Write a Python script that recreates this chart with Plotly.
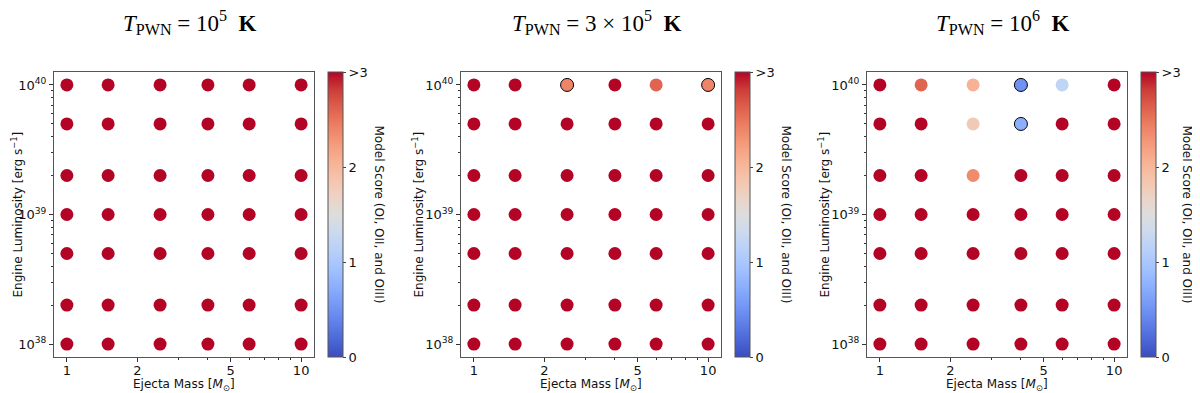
import plotly.graph_objects as go

# grid of models
ejecta_mass = [1, 1.5, 2.5, 4, 6, 10]
engine_lum = [1e38, 2e38, 5e38, 1e39, 2e39, 5e39, 1e40]
temps = ["10<sup>5</sup>", "3 × 10<sup>5</sup>", "10<sup>6</sup>"]

# scores, rows = luminosity (low -> high), cols = ejecta mass; values >3 drawn as 3
score_1e5 = [[3]*6 for _ in range(7)]
score_3e5 = [[3]*6 for _ in range(6)] + [[3, 3, 2.4, 3, 2.6, 2.4]]
score_1e6 = [[3]*6 for _ in range(4)] + [
    [3, 3, 2.35, 3, 3, 3],
    [3, 3, 1.8, 0.75, 3, 3],
    [3, 2.6, 2.05, 0.5, 1.2, 3],
]
# models outlined in black (best fits)
best_3e5 = [(2.5, 1e40), (10, 1e40)]
best_1e6 = [(4, 1e40), (4, 5e39)]
scores = [score_1e5, score_3e5, score_1e6]
bests = [[], best_3e5, best_1e6]

coolwarm = [
    [0, "rgb(59,76,192)"], [0.0625, "rgb(77,104,215)"], [0.125, "rgb(98,130,234)"],
    [0.1875, "rgb(119,154,247)"], [0.25, "rgb(141,176,254)"], [0.3125, "rgb(163,194,255)"],
    [0.375, "rgb(184,208,249)"], [0.4375, "rgb(204,217,238)"], [0.5, "rgb(221,221,221)"],
    [0.5625, "rgb(236,211,197)"], [0.625, "rgb(245,196,172)"], [0.6875, "rgb(247,177,147)"],
    [0.75, "rgb(244,154,123)"], [0.8125, "rgb(236,127,99)"], [0.875, "rgb(222,96,77)"],
    [0.9375, "rgb(203,62,56)"], [1, "rgb(180,4,38)"],
]

# the page body has an 8px margin: shrink the figure and shift positions
O = 8
W, H = 1200 - O, 393 - O
top, bot = 72, 357
lefts = [54, 461, 867]
pw = 260
fy = lambda p: 1 - (p - O)/H
fx = lambda p: (p - O)/W

minor_y = [float(k) * 10.0**e for e in (38, 39) for k in range(2, 10)]

fig = go.Figure()
lay = {}
ann = []
def note(x, y, text, size=12, angle=0, family=None, color="#111"):
    f = dict(size=size, color=color)
    if family:
        f["family"] = family
    ann.append(dict(x=fx(x), y=fy(y), xref="paper", yref="paper", text=text, textangle=angle,
                    showarrow=False, xanchor="center", yanchor="middle", font=f))

for i in range(3):
    s = "" if i == 0 else str(i+1)
    xs, ys, cs, lw = [], [], [], []
    for r, L in enumerate(engine_lum):
        for c, m in enumerate(ejecta_mass):
            xs.append(m); ys.append(L); cs.append(scores[i][r][c])
            lw.append(1 if (m, L) in bests[i] else 0)
    fig.add_trace(go.Scatter(
        x=xs, y=ys, mode="markers", xaxis="x"+s, yaxis="y"+s, showlegend=False,
        marker=dict(size=13, color=cs, coloraxis="coloraxis"+s,
                    line=dict(width=lw, color="black"))))
    l = lefts[i]
    axstyle = dict(showline=True, mirror=True, linecolor="#555", linewidth=1,
                   showgrid=False, zeroline=False, ticks="outside", ticklen=4,
                   tickcolor="#333", tickfont=dict(size=13, color="#111"))
    lay["xaxis"+s] = dict(type="log", domain=[fx(l), fx(l+pw)], range=[-0.055, 1.055],
                          anchor="y"+s, tickvals=[1, 2, 5, 10], ticktext=["1", "2", "5", "10"],
                          ticklabelstandoff=-3,
                          minor=dict(tickvals=[3, 4, 6, 7, 8, 9], ticks="outside", ticklen=2, tickcolor="#333"),
                          **axstyle)
    lay["yaxis"+s] = dict(type="log", domain=[fy(bot), fy(top)], range=[37.9, 40.1],
                          anchor="x"+s, tickvals=[1e38, 1e39, 1e40],
                          ticktext=["10<sup>38</sup>", "10<sup>39</sup>", "10<sup>40</sup>"],
                          minor=dict(tickvals=minor_y, ticks="outside", ticklen=2, tickcolor="#333"),
                          **axstyle)
    cb_x = l + pw + 14
    lay["coloraxis"+s] = dict(
        colorscale=coolwarm, cmin=0, cmax=3,
        colorbar=dict(x=fx(cb_x), xanchor="left", xpad=0, ypad=0, thickness=15,
                      lenmode="fraction", len=(bot-top)/H, y=fy((top+bot)/2), yanchor="middle",
                      tickvals=[0, 1, 2, 3], ticktext=["0", "1", "2", ">3"], ticks="outside",
                      ticklen=3, tickfont=dict(size=13, color="#111"),
                      outlinewidth=1, outlinecolor="#555"))
    note(min(cb_x + 51, 1187), (top+bot)/2, "Model Score (OI, OII, and OIII)", angle=90)
    note(max(l - 44, 16), (top+bot)/2, "Engine Luminosity [erg s<sup>−1</sup>]", angle=-90)
    note(l + pw/2, 385, "Ejecta Mass [<i>M</i><sub>⊙</sub>]")
    note(l + pw/2 + 6, 22, "<i>T</i><sub>PWN</sub> = " + temps[i] + "  <b>K</b>",
         size=23, family="Liberation Serif", color="black")

fig.update_layout(width=W, height=H, margin=dict(l=0, r=0, t=0, b=0, autoexpand=False),
                  plot_bgcolor="white", paper_bgcolor="white",
                  font=dict(family="DejaVu Sans"), annotations=ann, **lay)
fig.write_html("out.html")
